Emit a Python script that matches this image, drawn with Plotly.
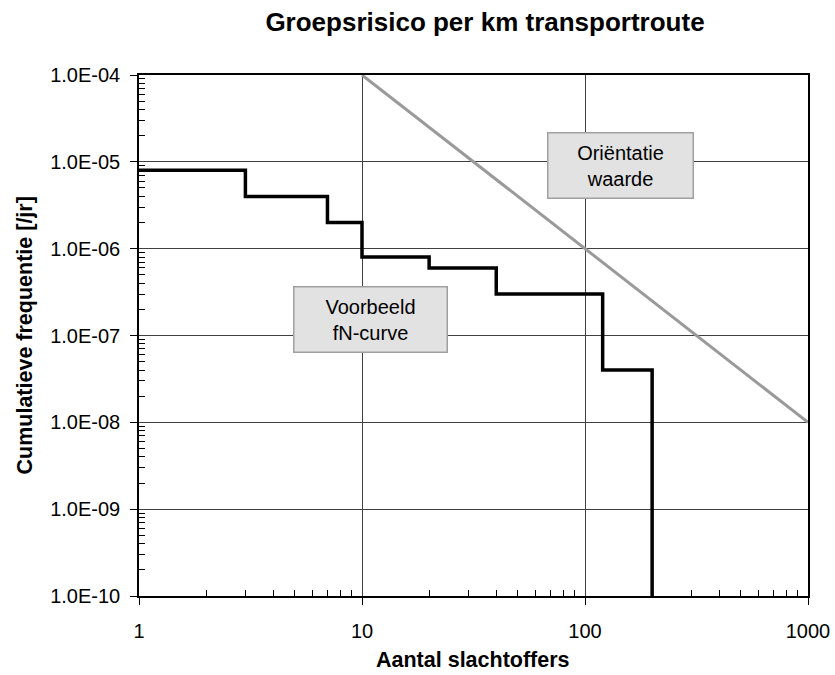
import plotly.graph_objects as go

# fN-curve (step) data
fn_x = [1, 3, 7, 10, 20, 40, 120, 200]
fn_y = [8e-6, 4e-6, 2e-6, 8e-7, 6e-7, 3e-7, 4e-8, 1e-10]

# Orientation value line
ow_x = [10, 1000]
ow_y = [1e-4, 1e-8]

x_ticks = [1, 10, 100, 1000]
x_ticktext = ["1", "10", "100", "1000"]
y_ticks = [1e-10, 1e-9, 1e-8, 1e-7, 1e-6, 1e-5, 1e-4]
y_ticktext = ["1.0E-10", "1.0E-09", "1.0E-08", "1.0E-07", "1.0E-06", "1.0E-05", "1.0E-04"]

FONT = "Liberation Sans, Arial, sans-serif"

x_minor = [m * d for d in [1, 10, 100] for m in range(2, 10)]
y_minor = [m * d for d in [1e-10, 1e-9, 1e-8, 1e-7, 1e-6, 1e-5] for m in range(2, 10)]

fig = go.Figure()
fig.add_trace(go.Scatter(x=ow_x, y=ow_y, mode="lines",
                         line=dict(color="#9a9a9a", width=3), showlegend=False))
fig.add_trace(go.Scatter(x=fn_x, y=fn_y, mode="lines", line_shape="hv",
                         line=dict(color="black", width=3.5), showlegend=False))

PL, PR, PT, PB = 139, 27, 75, 79
PW = 835 - PL - PR
PH = 675 - PT - PB

fig.update_layout(
    width=835, height=675,
    margin=dict(l=PL, r=PR, t=PT, b=PB, autoexpand=False),
    paper_bgcolor="white", plot_bgcolor="white",
    font=dict(family=FONT, color="black"),
    title=dict(text="<b>Groepsrisico per km transportroute</b>",
               x=485 / 835, xanchor="center", xref="container",
               y=1 - 22 / 675, yanchor="middle", yref="container",
               font=dict(size=26, family=FONT, color="black")),
    annotations=[
        dict(x=2.157, y=-5.037, xref="x", yref="y",
             text="Oriëntatie<br>waarde", showarrow=False,
             font=dict(size=20, family=FONT, color="black"),
             bgcolor="#e2e2e2", bordercolor="#a0a0a0", borderwidth=1.5,
             borderpad=0, width=144, height=64, align="center"),
        dict(x=1.036, y=-6.811, xref="x", yref="y",
             text="Voorbeeld<br>fN-curve", showarrow=False,
             font=dict(size=20, family=FONT, color="black"),
             bgcolor="#e2e2e2", bordercolor="#a0a0a0", borderwidth=1.5,
             borderpad=0, width=152, height=64, align="center"),
        dict(x=(24 - PL) / PW, y=0.5, xref="paper", yref="paper",
             xanchor="center", yanchor="middle", textangle=-90,
             text="<b>Cumulatieve frequentie [/jr]</b>", showarrow=False,
             font=dict(size=21.5, family=FONT, color="black")),
        dict(x=(473 - PL) / PW, y=-(660 - (PT + PH)) / PH, xref="paper", yref="paper",
             xanchor="center", yanchor="middle",
             text="<b>Aantal slachtoffers</b>", showarrow=False,
             font=dict(size=21.5, family=FONT, color="black")),
    ],
)

fig.update_xaxes(
    type="log", range=[0, 3],
    tickvals=x_ticks, ticktext=x_ticktext,
    tickfont=dict(size=20, family=FONT, color="black"),
    ticks="outside", ticklen=7, tickcolor="black", tickwidth=1,
    ticklabelstandoff=9,
    showgrid=True, gridcolor="#404040", gridwidth=1,
    showline=True, linecolor="black", linewidth=1.5, mirror=True,
    zeroline=False,
    minor=dict(tickvals=x_minor, ticks="inside", ticklen=6, tickcolor="black",
               tickwidth=1, showgrid=False),
)
fig.update_yaxes(
    type="log", range=[-10, -4],
    tickvals=y_ticks, ticktext=y_ticktext,
    tickfont=dict(size=20, family=FONT, color="black"),
    ticks="outside", ticklen=7, tickcolor="black", tickwidth=1,
    ticklabelstandoff=6,
    showgrid=True, gridcolor="#404040", gridwidth=1,
    showline=True, linecolor="black", linewidth=1.5, mirror=True,
    zeroline=False,
    minor=dict(tickvals=y_minor, ticks="inside", ticklen=6, tickcolor="black",
               tickwidth=1, showgrid=False),
)

fig.write_html("out.html")
